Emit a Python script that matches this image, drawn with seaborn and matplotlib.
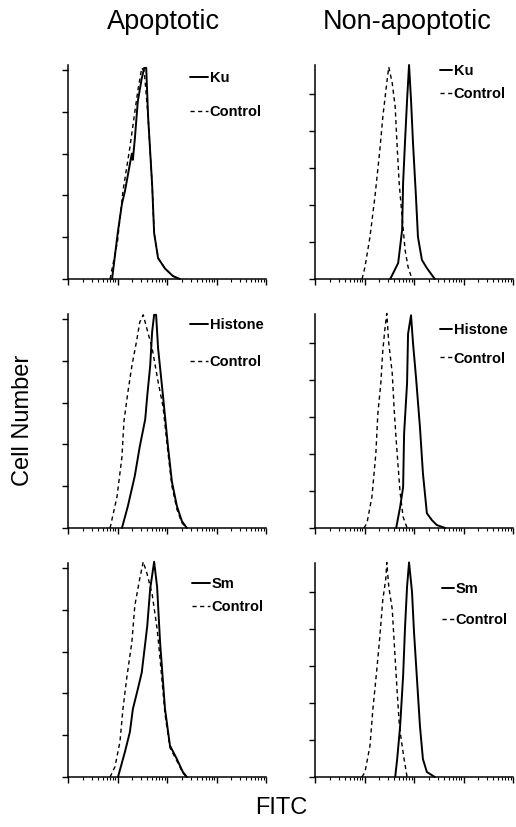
import numpy as np
import pandas as pd
import matplotlib
matplotlib.use("Agg")
import matplotlib.pyplot as plt
import seaborn as sns
from matplotlib.ticker import LogLocator, NullFormatter, FixedLocator

# ---------------- data ----------------
col_titles = ["Apoptotic", "Non-apoptotic"]
antigens = ["Ku", "Histone", "Sm"]
control_label = "Control"
x_label = "FITC"
y_label = "Cell Number"
y_ticks = [0, 20, 40, 60, 80, 100]

# x values are log10(FITC intensity); y values are cell counts
ku_apo_logx = [0.89, 1.01, 1.09, 1.15, 1.25, 1.29, 1.31, 1.35, 1.41, 1.49, 1.54, 1.58, 1.62, 1.70, 1.74, 1.82, 1.96, 2.12, 2.26]
ku_apo_y = [0, 23, 36, 42, 55, 60, 57, 67, 85, 96, 101, 101, 77, 45, 22, 10, 5, 1.4, 0]
ku_apo_ctl_logx = [0.85, 1.00, 1.11, 1.19, 1.25, 1.35, 1.41, 1.49, 1.54, 1.62, 1.70, 1.74, 1.82, 1.96, 2.12, 2.26]
ku_apo_ctl_y = [0, 18, 42, 54, 63, 80, 90, 101, 99.5, 77, 45, 22, 10, 5, 1.4, 0]

his_apo_logx = [1.09, 1.21, 1.35, 1.45, 1.56, 1.60, 1.66, 1.70, 1.74, 1.78, 1.82, 1.92, 2.02, 2.10, 2.20, 2.30, 2.40]
his_apo_y = [0, 10.5, 25, 39, 52, 63, 77.5, 94, 102, 102, 86, 63, 39, 22, 10.5, 3.3, 0]
his_apo_ctl_logx = [0.85, 0.99, 1.09, 1.13, 1.21, 1.29, 1.39, 1.45, 1.52, 1.62, 1.70, 1.82, 1.92, 2.02, 2.10, 2.20, 2.30, 2.40]
his_apo_ctl_y = [0, 15, 34, 51, 65, 77.5, 90, 98.5, 102, 93, 86, 70, 58, 36, 20, 9, 2.5, 0]

sm_apo_logx = [1.01, 1.15, 1.25, 1.31, 1.41, 1.49, 1.60, 1.66, 1.74, 1.80, 1.86, 1.96, 2.06, 2.20, 2.32, 2.40]
sm_apo_y = [0, 12, 21.5, 32.5, 42, 50, 72, 90, 103, 91, 64.5, 32.5, 15, 8.6, 2.4, 0]
sm_apo_ctl_logx = [0.85, 0.95, 1.05, 1.11, 1.19, 1.29, 1.35, 1.45, 1.52, 1.60, 1.70, 1.80, 1.86, 1.96, 2.06, 2.20, 2.32, 2.40]
sm_apo_ctl_y = [0, 5, 17, 32.5, 48, 64.5, 82, 95, 103, 97, 87.5, 71, 56.5, 30, 14, 7.7, 1.9, 0]

ku_non_logx = [1.52, 1.68, 1.76, 1.78, 1.82, 1.86, 1.90, 1.94, 1.98, 2.04, 2.08, 2.16, 2.26, 2.42]
ku_non_y = [0, 8.6, 26.5, 52, 75, 96.7, 115.7, 96.7, 73.5, 44.3, 22.7, 10.3, 5.9, 0]
ku_non_ctl_logx = [0.95, 1.01, 1.11, 1.21, 1.31, 1.37, 1.45, 1.49, 1.56, 1.62, 1.66, 1.70, 1.76, 1.82, 1.88, 1.96]
ku_non_ctl_y = [0, 6.5, 22.7, 44.3, 69.7, 87.6, 106, 114.6, 106, 93, 71.4, 52, 33.5, 15.7, 6.5, 0]

his_non_logx = [1.64, 1.72, 1.78, 1.80, 1.86, 1.88, 1.94, 1.98, 2.04, 2.12, 2.18, 2.26, 2.36, 2.46, 2.63]
his_non_y = [0, 11.4, 22, 51, 78.4, 105, 115, 100, 81.6, 54.6, 29.7, 8, 4.3, 1.6, 0]
his_non_ctl_logx = [0.99, 1.05, 1.15, 1.23, 1.27, 1.33, 1.37, 1.41, 1.45, 1.49, 1.56, 1.60, 1.64, 1.68, 1.72, 1.78, 1.86]
his_non_ctl_y = [0, 2.7, 16.8, 40.5, 62, 78.4, 96, 107, 116, 100, 83.8, 63.8, 47.6, 33, 19, 6, 0]

sm_non_logx = [1.62, 1.66, 1.72, 1.78, 1.82, 1.86, 1.90, 1.96, 2.00, 2.06, 2.12, 2.18, 2.26, 2.42]
sm_non_y = [0, 9.7, 27.6, 54.6, 81.6, 103, 116, 100, 78.4, 53, 27.6, 9.7, 2.7, 0]
sm_non_ctl_logx = [0.95, 1.01, 1.11, 1.17, 1.25, 1.31, 1.37, 1.43, 1.45, 1.49, 1.56, 1.62, 1.66, 1.70, 1.74, 1.80, 1.86]
sm_non_ctl_y = [0, 2.7, 16.8, 36.8, 58.4, 76, 96, 107, 116, 103, 90.8, 63.8, 46, 29.7, 20.5, 9.7, 0]

panels = [
    [(ku_apo_logx, ku_apo_y, ku_apo_ctl_logx, ku_apo_ctl_y),
     (ku_non_logx, ku_non_y, ku_non_ctl_logx, ku_non_ctl_y)],
    [(his_apo_logx, his_apo_y, his_apo_ctl_logx, his_apo_ctl_y),
     (his_non_logx, his_non_y, his_non_ctl_logx, his_non_ctl_y)],
    [(sm_apo_logx, sm_apo_y, sm_apo_ctl_logx, sm_apo_ctl_y),
     (sm_non_logx, sm_non_y, sm_non_ctl_logx, sm_non_ctl_y)],
]

# ---------------- layout / style ----------------
sns.set_theme(style="ticks")
plt.rcParams["font.family"] = ["Liberation Sans", "DejaVu Sans"]
plt.rcParams["text.color"] = "black"
plt.rcParams["axes.edgecolor"] = "black"
plt.rcParams["xtick.color"] = "black"
plt.rcParams["ytick.color"] = "black"

W, H = 516, 827
fig = plt.figure(figsize=(W / 100, H / 100), dpi=100)

col_x0 = [68, 315]
ax_w = 198
row_top = [65, 314, 563]
ax_h = 214
col_ymax = [102.4, 115.7]

# legend placement per panel: (x px of handle start, top px of first row, labelspacing, handle length)
legend_pos = [
    [(190, 71, 1.35, 1.25), (440, 64, 0.65, 0.85)],
    [(190, 318, 1.55, 1.25), (440, 323, 1.0, 0.85)],
    [(192, 577, 0.65, 1.25), (442, 582, 1.2, 0.85)],
]

for r in range(3):
    for c in range(2):
        x0 = col_x0[c]
        top = row_top[r]
        ax = fig.add_axes([x0 / W, (H - top - ax_h) / H, ax_w / W, ax_h / H])
        ax.set_xscale("log")
        sx, sy, dx, dy = panels[r][c]
        sns.lineplot(x=np.power(10.0, sx), y=sy, ax=ax, color="black",
                     linewidth=1.4, sort=False, estimator=None, legend=False)
        sns.lineplot(x=np.power(10.0, dx), y=dy, ax=ax, color="black",
                     linewidth=1.0, sort=False, estimator=None, legend=False)
        solid_line, dash_line = ax.lines[0], ax.lines[1]
        dash_line.set_dashes((3, 2.5))
        for ln in ax.lines:
            ln.set_clip_on(False)
        ax.set_xlim(1, 1e4)
        ax.set_ylim(0, col_ymax[c])
        ax.xaxis.set_major_locator(LogLocator(base=10, numticks=10))
        ax.xaxis.set_minor_locator(LogLocator(base=10, subs=np.arange(2, 10), numticks=20))
        ax.xaxis.set_major_formatter(NullFormatter())
        ax.xaxis.set_minor_formatter(NullFormatter())
        ax.yaxis.set_major_locator(FixedLocator(y_ticks))
        ax.set_yticklabels([])
        ax.tick_params(axis="both", which="major", direction="out", length=4, width=1, color="black")
        ax.tick_params(axis="x", which="minor", direction="out", length=2.5, width=0.8, color="black")
        ax.set_xlabel("")
        ax.set_ylabel("")
        sns.despine(ax=ax)
        for sp in ["left", "bottom"]:
            ax.spines[sp].set_linewidth(1.1)
            ax.spines[sp].set_color("black")

        lx, ltop, lsp, hlen = legend_pos[r][c]
        leg = ax.legend([solid_line, dash_line], [antigens[r], control_label],
                        loc="upper left",
                        bbox_to_anchor=((lx - x0) / ax_w, 1 - (ltop - top) / ax_h),
                        frameon=False, borderpad=0, borderaxespad=0,
                        handlelength=hlen, handletextpad=0.1, labelspacing=lsp,
                        prop={"weight": "bold", "size": 10.5})
        for t in leg.get_texts():
            t.set_color("black")

fig.text(163 / W, 1 - 22 / H, col_titles[0], ha="center", va="center", fontsize=19.5, color="black")
fig.text(407 / W, 1 - 22 / H, col_titles[1], ha="center", va="center", fontsize=19.5, color="black")
fig.text(23 / W, 1 - 420 / H, y_label, ha="center", va="center", rotation=90, fontsize=17, color="black")
fig.text(281 / W, 1 - 808 / H, x_label, ha="center", va="center", fontsize=17, color="black")

fig.savefig("out.png", dpi=100)
